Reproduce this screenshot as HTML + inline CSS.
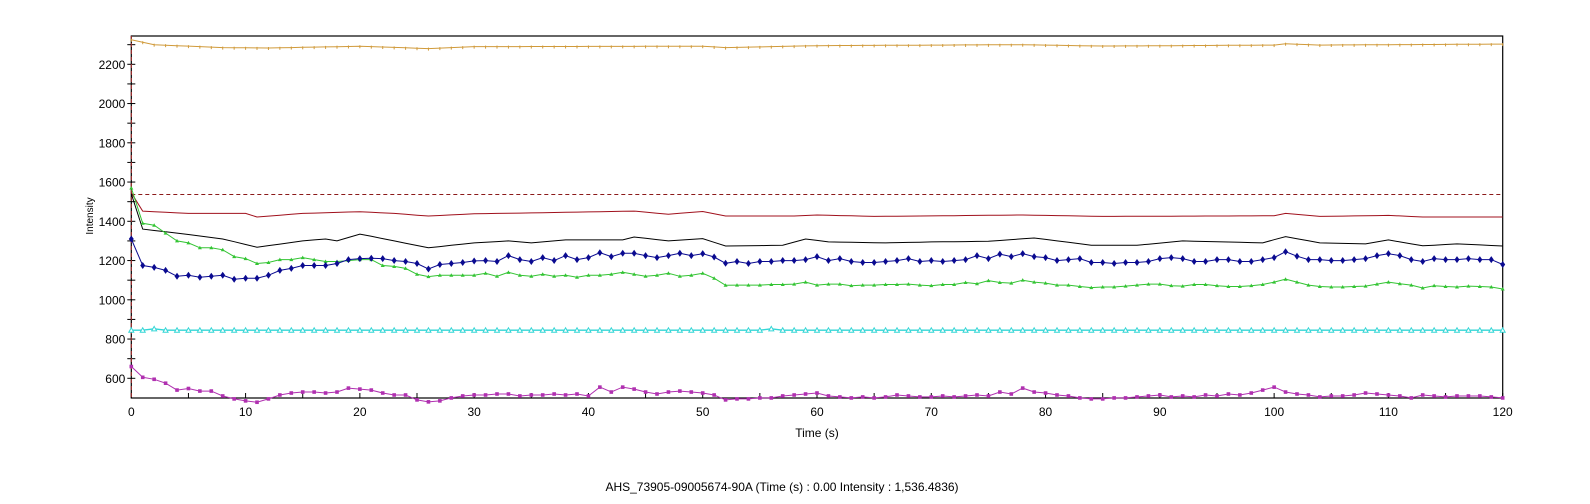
<!DOCTYPE html>
<html><head><meta charset="utf-8"><style>
html,body{margin:0;padding:0;background:#fff;width:1590px;height:504px;overflow:hidden}
svg{display:block}
text{font-family:"Liberation Sans",Arial,sans-serif;fill:#000}
</style></head><body>
<svg id="s" width="1590" height="504" xmlns="http://www.w3.org/2000/svg"></svg>
<script>
const S=document.getElementById('s');const NS='http://www.w3.org/2000/svg';
function el(n,a,t){const e=document.createElementNS(NS,n);for(const k in a)e.setAttribute(k,a[k]);if(t!=null)e.textContent=t;S.appendChild(e);return e;}
const X0=131.3,X1=1502.7,YT=36,YB=398;
const X=t=>X0+t*(X1-X0)/120;
const Y=v=>64.3+(2200-v)*0.19625;
function interp(kp){const out=[];for(let t=0;t<=120;t++){let i=0;while(i<kp.length-2&&kp[i+1][0]<=t)i++;const a=kp[i],b=kp[i+1];const f=b[0]==a[0]?0:(t-a[0])/(b[0]-a[0]);out.push(a[1]+(b[1]-a[1])*Math.max(0,Math.min(1,f)));}return out;}
const orange=interp([[0,2325],[2,2300],[8,2285],[12,2283],[20,2292],[26,2280],[30,2290],[50,2292],[52,2285],[60,2295],[78,2300],[85,2293],[100,2298],[101,2305],[104,2298],[120,2303]]);
const red=interp([[0,1545],[1,1452],[5,1440],[10,1440],[11,1422],[15,1440],[20,1449],[23,1440],[26,1427],[30,1438],[44,1452],[47,1436],[50,1450],[52,1427],[58,1427],[60,1432],[65,1425],[78,1432],[85,1425],[100,1428],[101,1440],[104,1425],[110,1430],[113,1422],[120,1422]]);
const black=interp([[0,1540],[1,1360],[4,1340],[8,1310],[11,1268],[15,1300],[17,1310],[18,1300],[20,1335],[23,1300],[26,1265],[30,1290],[33,1300],[35,1290],[38,1305],[43,1305],[44,1320],[47,1300],[50,1312],[52,1274],[57,1278],[59,1310],[61,1295],[66,1290],[70,1295],[75,1298],[79,1315],[84,1278],[88,1278],[92,1300],[99,1290],[101,1322],[104,1290],[108,1285],[110,1305],[113,1275],[116,1285],[120,1274]]);
const blue=[1310,1175,1165,1150,1120,1125,1115,1120,1125,1105,1110,1110,1125,1150,1160,1175,1175,1175,1185,1205,1210,1212,1210,1200,1195,1185,1157,1180,1185,1190,1198,1200,1195,1225,1205,1195,1215,1200,1225,1205,1215,1240,1220,1237,1237,1225,1215,1225,1237,1225,1235,1218,1186,1195,1185,1195,1195,1200,1200,1205,1220,1200,1210,1195,1190,1190,1195,1200,1210,1195,1200,1195,1200,1205,1225,1210,1233,1220,1235,1220,1215,1200,1205,1210,1190,1190,1185,1190,1190,1195,1210,1215,1210,1195,1195,1205,1205,1195,1195,1205,1215,1245,1222,1205,1205,1200,1200,1205,1210,1225,1235,1225,1205,1195,1210,1205,1205,1210,1205,1205,1180];
const green=[1570,1390,1380,1340,1300,1290,1265,1265,1255,1220,1210,1185,1190,1205,1205,1215,1205,1195,1195,1200,1205,1205,1175,1170,1160,1130,1118,1125,1125,1125,1125,1135,1120,1140,1125,1120,1130,1120,1125,1115,1125,1125,1130,1140,1130,1120,1125,1135,1120,1125,1135,1110,1074,1075,1075,1075,1078,1078,1080,1090,1075,1080,1080,1072,1075,1075,1078,1078,1080,1075,1072,1078,1078,1088,1082,1098,1088,1085,1100,1090,1085,1075,1075,1068,1062,1065,1065,1070,1075,1080,1080,1072,1070,1078,1078,1072,1068,1068,1072,1078,1090,1105,1090,1075,1068,1065,1065,1068,1070,1080,1090,1082,1075,1060,1072,1068,1065,1070,1068,1065,1055];
const cyan=[];for(let t=0;t<=120;t++)cyan.push(t==2||t==56?852:845);
const mag=[660,605,595,575,540,548,535,535,510,495,485,478,495,515,525,530,530,525,530,550,545,540,525,515,515,490,480,485,500,510,515,515,520,520,510,515,515,520,515,520,510,555,530,555,545,530,520,530,535,530,525,515,490,495,495,500,500,510,515,520,525,510,505,500,505,500,505,515,510,505,505,510,505,510,515,510,530,520,550,530,525,515,510,500,495,495,500,500,505,510,515,505,510,505,515,510,520,515,525,540,555,530,520,515,505,510,510,515,525,520,515,510,500,515,510,505,510,510,510,505,500];
function poly(d,c,w){let p='';d.forEach((v,t)=>p+=X(t).toFixed(1)+','+Y(v).toFixed(1)+' ');el('polyline',{points:p,fill:'none',stroke:c,'stroke-width':w||1});}
// frame
el('rect',{x:X0,y:YT,width:X1-X0,height:YB-YT,fill:'none',stroke:'#000','stroke-width':1.2});
// y ticks
for(let v=600;v<=2300;v+=100){const y=Y(v);el('line',{x1:X0-4,x2:X0+4,y1:y,y2:y,stroke:'#000'});if(v%200==0&&v<=2200)el('text',{x:X0-6,y:y+4.5,'font-size':12,'text-anchor':'end'},v);}
for(let t=0;t<=120;t+=5){const x=X(t);el('line',{x1:x,x2:x,y1:YB,y2:YB-5,stroke:'#000'});if(t%10==0)el('text',{x:x,y:416,'font-size':12,'text-anchor':'middle'},t);}
el('text',{x:0,y:0,'font-size':10,'text-anchor':'middle',transform:'translate(93,216) rotate(-90)'},'Intensity');
el('text',{x:817,y:437,'font-size':12,'text-anchor':'middle'},'Time (s)');
el('text',{x:782,y:491,'font-size':12,'text-anchor':'middle'},'AHS_73905-09005674-90A (Time (s) : 0.00  Intensity : 1,536.4836)');
// dashed lines
el('line',{x1:X0,x2:X1,y1:Y(1536.5),y2:Y(1536.5),stroke:'#8b1a1a','stroke-dasharray':'4,3'});
el('line',{x1:X0,x2:X0,y1:YT,y2:YB,stroke:'#b03030','stroke-dasharray':'4,3'});
// series
poly(orange,'#d09a3a');orange.forEach((v,t)=>el('line',{x1:X(t),x2:X(t),y1:Y(v)-1,y2:Y(v)+2,stroke:'#d09a3a'}));
poly(red,'#a0101c');
poly(black,'#000');
poly(cyan,'#33d6d6',1.3);cyan.forEach((v,t)=>el('polygon',{points:`${X(t)-2.5},${Y(v)+2} ${X(t)+2.5},${Y(v)+2} ${X(t)},${Y(v)-2.5}`,fill:'#fff',stroke:'#33d6d6'}));
poly(green,'#33c433');green.forEach((v,t)=>el('polygon',{points:`${X(t)-2},${Y(v)+1.5} ${X(t)+2},${Y(v)+1.5} ${X(t)},${Y(v)-2}`,fill:'#33c433'}));
poly(mag,'#b030b0');mag.forEach((v,t)=>el('rect',{x:X(t)-1.8,y:Y(v)-1.8,width:3.6,height:3.6,fill:'#b030b0'}));
poly(blue,'#0a0a90');blue.forEach((v,t)=>el('polygon',{points:`${X(t)},${Y(v)-3.5} ${X(t)+2.5},${Y(v)} ${X(t)},${Y(v)+3.5} ${X(t)-2.5},${Y(v)}`,fill:'#0a0a90'}));
</script>
</body></html>
